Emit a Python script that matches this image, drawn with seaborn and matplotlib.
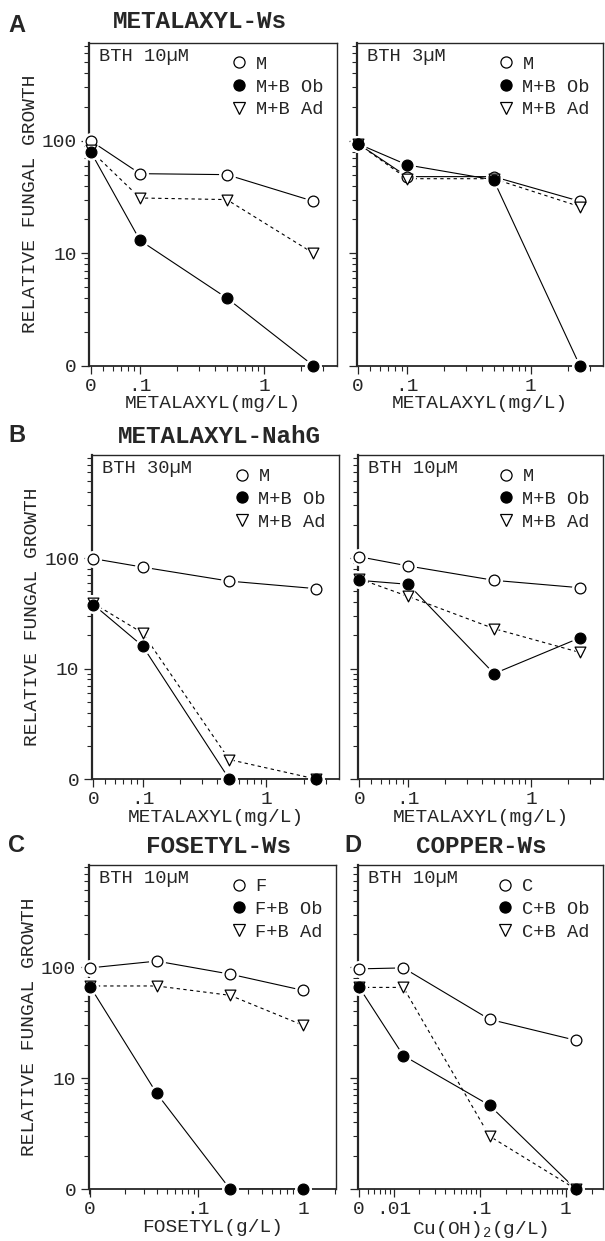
import numpy as np
import matplotlib.pyplot as plt
import matplotlib.ticker as mticker
from matplotlib.lines import Line2D
import pandas as pd
import seaborn as sns

# doses; 0 is drawn at the left edge of the log axis
metalaxyl_dose = [0, 0.1, 0.5, 2.5]
fosetyl_dose = [0, 0.04, 0.2, 1]
copper_dose = [0, 0.013, 0.13, 1.3]

# relative fungal growth (0 = none, drawn on the bottom of the log axis)
a1_m = [100, 51, 50, 29]
a1_ob = [80, 13, 4, 0]
a1_ad = [82, 31, 30, 10]
a2_m = [94, 48, 48, 29]
a2_ob = [94, 61, 45, 0]
a2_ad = [94, 46, 46, 26]
b1_m = [99, 83, 62, 53]
b1_ob = [38, 16, 0, 0]
b1_ad = [39, 21, 1.5, 0]
b2_m = [103, 85, 63, 54]
b2_ob = [63, 58, 9, 19]
b2_ad = [65, 45, 23, 14]
c_f = [99, 114, 87, 62]
c_ob = [67, 7.3, 0, 0]
c_ad = [68, 68, 56, 30]
d_c = [97, 99, 34, 22]
d_ob = [66, 16, 5.7, 0]
d_ad = [66, 66, 3, 0]

m_names = ['M', 'M+B Ob', 'M+B Ad']
f_names = ['F', 'F+B Ob', 'F+B Ad']
c_names = ['C', 'C+B Ob', 'C+B Ad']

sns.set_style('ticks')
plt.rcParams['font.family'] = ['Liberation Mono', 'DejaVu Sans']
plt.rcParams['mathtext.default'] = 'regular'

W, H = 605, 1241
fig = plt.figure(figsize=(W / 100, H / 100), dpi=100)


def add_ax(x0, x1, top, bottom):
    return fig.add_axes([x0 / W, 1 - bottom / H, (x1 - x0) / W, (bottom - top) / H])


def panel(ax, dose, m, ob, ad, names, bth, xlim, zero_x, xticks, xticklabels,
          ylim, xlabel, left=True):
    x = [zero_x if d == 0 else d for d in dose]
    # drawn in this order so the filled circles sit on top
    series = [(names[0], m, 'o', 'white', '-'),
              (names[2], ad, 'v', 'white', (0, (3, 3))),
              (names[1], ob, 'o', 'black', '-')]
    for name, vals, mk, fc, ls in series:
        y = np.clip(vals, 1, None)
        sns.lineplot(x=x, y=y, ax=ax, color='black', lw=0.8, linestyle=ls,
                     sort=False, estimator=None, legend=False)
    for name, vals, mk, fc, ls in series:
        y = np.clip(vals, 1, None)
        sns.scatterplot(x=x, y=y, ax=ax, marker=mk, s=150, color='white',
                        linewidth=0, clip_on=False, zorder=3, legend=False)
    for name, vals, mk, fc, ls in series:
        y = np.clip(vals, 1, None)
        sns.scatterplot(x=x, y=y, ax=ax, marker=mk, s=60, color=fc,
                        edgecolor='black', linewidth=0.9, clip_on=False,
                        zorder=4, legend=False)

    ax.set_xscale('log')
    ax.set_yscale('log')
    ax.set_xlim(*xlim)
    ax.set_ylim(*ylim)

    ax.xaxis.set_major_locator(mticker.FixedLocator(xticks))
    ax.xaxis.set_major_formatter(mticker.FixedFormatter(xticklabels))
    ax.xaxis.set_minor_locator(mticker.LogLocator(base=10, subs=np.arange(2, 10), numticks=50))
    ax.xaxis.set_minor_formatter(mticker.NullFormatter())
    ax.yaxis.set_major_locator(mticker.FixedLocator([1, 10, 100]))
    ax.yaxis.set_major_formatter(mticker.FixedFormatter(['0', '10', '100']))
    ax.yaxis.set_minor_locator(mticker.LogLocator(base=10, subs=np.arange(2, 10), numticks=50))
    ax.yaxis.set_minor_formatter(mticker.NullFormatter())

    ax.tick_params(which='major', direction='out', length=6, width=0.9,
                   labelsize=14, pad=3)
    ax.tick_params(which='minor', direction='out', length=3.5, width=0.8)
    if not left:
        ax.tick_params(axis='y', labelleft=False)
    else:
        ax.set_ylabel('RELATIVE FUNGAL GROWTH', fontsize=14, labelpad=2)
    ax.set_xlabel(xlabel, fontsize=14, labelpad=0)
    for s in ax.spines.values():
        s.set_linewidth(1.0)
    ax.spines['left'].set_linewidth(1.6)
    ax.spines['bottom'].set_linewidth(1.3)

    ax.text(0.04, 0.985, bth, transform=ax.transAxes, ha='left', va='top',
            fontsize=13.5)
    handles = [Line2D([], [], marker='o', ls='none', mfc='white', mec='black', ms=8, mew=0.9),
               Line2D([], [], marker='o', ls='none', mfc='black', mec='black', ms=8, mew=0.9),
               Line2D([], [], marker='v', ls='none', mfc='white', mec='black', ms=8, mew=0.9)]
    ax.legend(handles, [names[0], names[1], names[2]], loc='upper right',
              frameon=False, fontsize=13.5, handletextpad=0.3,
              labelspacing=0.3, borderaxespad=0.3, borderpad=0.4,
              handlelength=1.2)


met_xlim = (0.039, 3.85)
met_ticks = [0.04, 0.1, 1]
met_labels = ['0', '.1', '1']
met_label = 'METALAXYL(mg/L)'

ax = add_ax(89.3, 336.7, 42.7, 365.7)
panel(ax, metalaxyl_dose, a1_m, a1_ob, a1_ad, m_names, 'BTH 10µM',
      met_xlim, 0.04, met_ticks, met_labels, (1, 745), met_label)
ax = add_ax(356.7, 603, 42.7, 365.7)
panel(ax, metalaxyl_dose, a2_m, a2_ob, a2_ad, m_names, 'BTH 3µM',
      met_xlim, 0.04, met_ticks, met_labels, (1, 745), met_label, left=False)

ax = add_ax(92, 339, 455, 779)
panel(ax, metalaxyl_dose, b1_m, b1_ob, b1_ad, m_names, 'BTH 30µM',
      met_xlim, 0.04, met_ticks, met_labels, (1, 860), met_label)
ax = add_ax(358, 603, 455, 779)
panel(ax, metalaxyl_dose, b2_m, b2_ob, b2_ad, m_names, 'BTH 10µM',
      met_xlim, 0.04, met_ticks, met_labels, (1, 860), met_label, left=False)

ax = add_ax(88.7, 336, 865, 1189)
panel(ax, fosetyl_dose, c_f, c_ob, c_ad, f_names, 'BTH 10µM',
      (0.009, 2.05), 0.0093, [0.0093, 0.1, 1], ['0', '.1', '1'], (1, 840),
      'FOSETYL(g/L)')
ax = add_ax(358.3, 603, 865, 1189)
panel(ax, copper_dose, d_c, d_ob, d_ad, c_names, 'BTH 10µM',
      (0.0039, 2.7), 0.004, [0.004, 0.01, 0.1, 1], ['0', '.01', '.1', '1'],
      (1, 840), r'Cu(OH)$_2$(g/L)', left=False)

# panel letters and titles
for letter, x, y in [('A', 8, 14), ('B', 8, 424), ('C', 8, 834), ('D', 344, 834)]:
    fig.text(x / W, 1 - y / H, letter, fontsize=17, fontweight='bold',
             family='Liberation Sans', va='top', ha='left')
for title, x, y in [('METALAXYL-Ws', 200, 28), ('METALAXYL-NahG', 219, 443),
                    ('FOSETYL-Ws', 219, 853), ('COPPER-Ws', 481, 853)]:
    fig.text(x / W, 1 - y / H, title, fontsize=17.5, fontweight='bold',
             ha='center', va='baseline')

fig.savefig('out.png', dpi=100)
